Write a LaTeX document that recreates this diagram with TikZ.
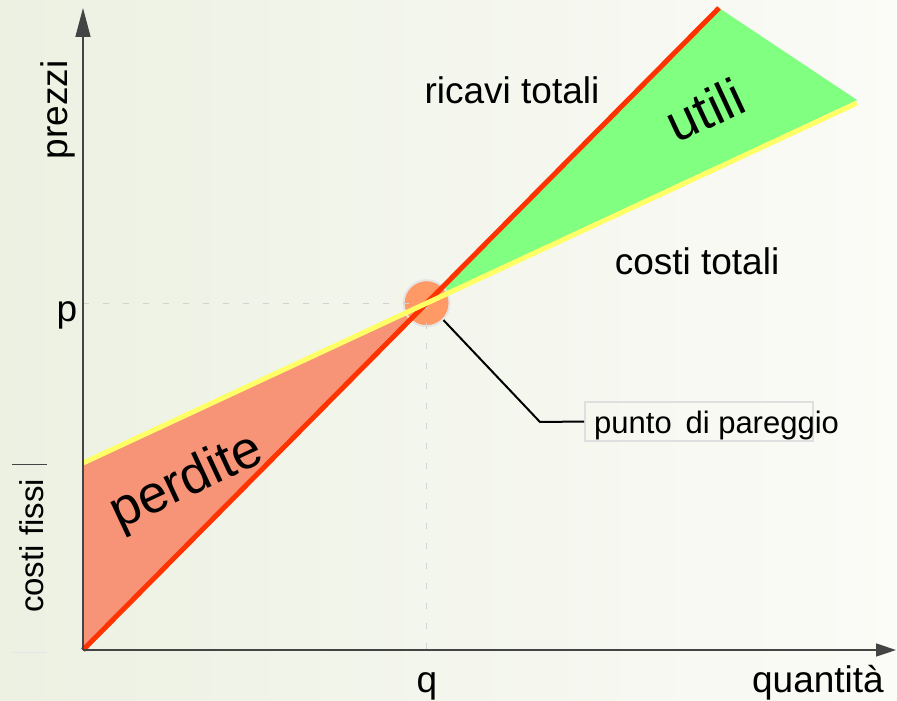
\documentclass[tikz,border=0pt]{standalone}
\usepackage{fontspec}
\setmainfont{Liberation Sans}
\usetikzlibrary{arrows.meta}
\definecolor{ricavi}{HTML}{FF3300}
\definecolor{costi}{HTML}{FFFF66}
\definecolor{perdite}{HTML}{F79478}
\definecolor{utili}{HTML}{80FF80}
\definecolor{pareggio}{HTML}{FF9966}
\definecolor{asse}{HTML}{444444}
\definecolor{sfondoL}{HTML}{ECF1E2}
\definecolor{sfondoR}{HTML}{FBFBF7}
\newcommand{\testo}{\fontsize{37}{40}\selectfont}
\newcommand{\grande}{\fontsize{53}{57}\selectfont}

\begin{document}
\begin{tikzpicture}[x=1pt,y=-1pt,
  lbl/.style={font=\testo,inner sep=0pt},
  big/.style={font=\grande,inner sep=0pt,rotate=25},
  guide/.style={gray!35,line width=1pt,dash pattern=on 6pt off 14pt}]
  \useasboundingbox (0,0) rectangle (897,701);
  \shade[left color=sfondoL,right color=sfondoR] (0,0) rectangle (897,701);

  \coordinate (O) at (83,650);
  \coordinate (R) at (719,8);
  \coordinate (F) at (83,463);
  \coordinate (C) at (857,103);
  \coordinate (X) at (intersection of O--R and F--C);

  %aree
  \fill[perdite] (O) -- (F) -- (X) -- cycle;
  \fill[utili] (X) -- (R) -- (857,100) -- cycle;

  %punto di pareggio
  \node[circle,minimum size=46pt,fill=pareggio,draw=gray!20,line width=2pt] (pareggio) at (X) {};
  \draw[guide] (F |- X) -- (X);
  \draw[guide] (X) -- (X |- O);

  %rette
  \draw[ricavi,line width=5pt] (O) -- (R);
  \draw[costi,line width=5pt] (F) -- (C);

  %assi
  \draw[asse,line width=1.5pt,-{Triangle[length=29pt,width=15pt]}] (O) -- (83,8);
  \draw[asse,line width=1.5pt,-{Triangle[length=20pt,width=13pt]}] (O) -- (896,650);
  \draw[asse,line width=1pt] (12,464) -- (47,464);
  \draw[gray!20,line width=1pt] (12,652) -- (47,652);

  \node[lbl,rotate=90,anchor=base] (prezzi) at (67,110) {prezzi};
  \node[lbl,font=\fontsize{33}{36}\selectfont,rotate=90,anchor=base] (fissi) at (43,546) {costi fissi};
  \node[lbl,anchor=base] (p) at (67,321) {p};
  \node[lbl,anchor=base] (q) at (427,692) {q};
  \node[lbl,anchor=base] (quantita) at (818,692) {quantità};
  \node[lbl,anchor=base] (ricavi) at (512,103) {ricavi totali};
  \node[lbl,anchor=base] (costi) at (697,274) {costi totali};
  \node[big] (perd) at (187,483) {perdite};
  \node[big] (util) at (705,110) {utili};

  %etichetta
  \node[draw=gray!25,line width=1.5pt,minimum width=228pt,minimum height=39pt,anchor=west] (box) at (584,421.5) {};
  \node[lbl,font=\fontsize{31}{34}\selectfont,anchor=base west] (punto) at (594,433) {punto\,\ di pareggio};
  \coordinate (gomito) at (540,422);
  \draw[black,line width=2pt] (pareggio.-45) -- (gomito) -- (box.west);
\end{tikzpicture}
\end{document}
